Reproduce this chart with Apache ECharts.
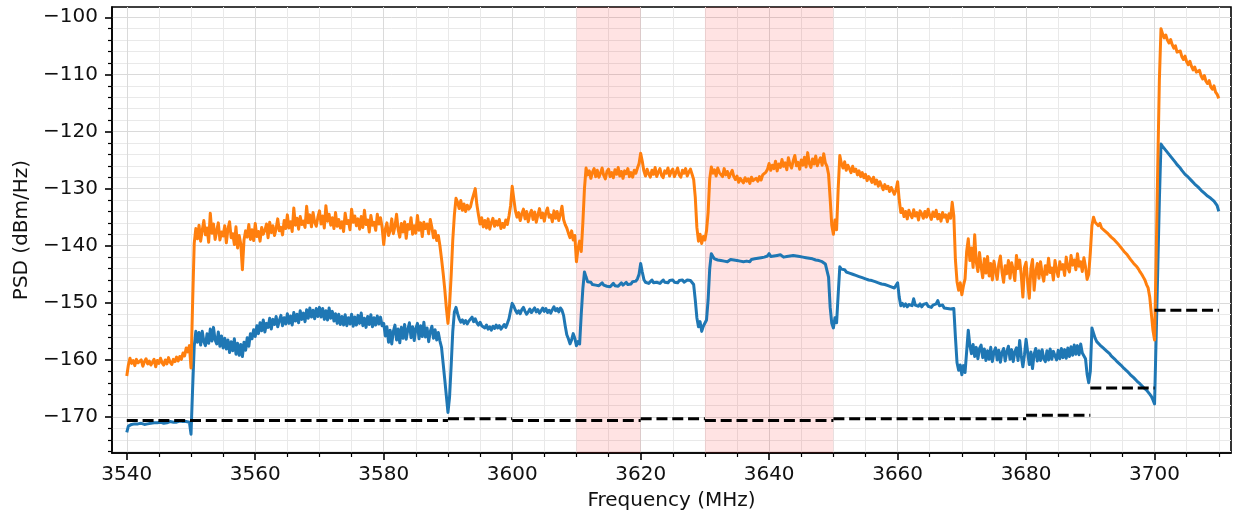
<!DOCTYPE html>
<html>
<head>
<meta charset="utf-8">
<title>PSD</title>
<script src="https://cdn.jsdelivr.net/npm/echarts@6/dist/echarts.min.js"></script>
<style>
  html, body { margin: 0; padding: 0; background: #fff; }
  #chart { width: 1236px; height: 519px; }
</style>
</head>
<body>
<div id="chart"></div>
<script>
// Frequency sampling of both traces (MHz)
const freqStartMHz = 3540;
const freqStepMHz = 0.25;

// Lower trace, dBm/Hz, two lines per 10 MHz
const bluePsd = [
  -172.7,-171.6,-171.4,-171.3,-171.4,-171.2,-171.3,-171.2,-171.3,-171.1,-171.2,-171.3,-171.1,-171.2,-171.0,-171.1,-171.2,-171.0,-171.1,-171.0,
  -171.1,-170.9,-171.0,-171.1,-170.9,-171.0,-170.9,-170.8,-171.0,-170.9,-170.8,-170.9,-170.8,-170.7,-170.9,-170.8,-170.7,-170.8,-170.6,-170.9,
  -173.0,-165.0,-157.6,-155.0,-156.9,-155.2,-157.4,-155.0,-156.8,-157.5,-155.4,-157.1,-154.6,-156.7,-154.3,-156.5,-157.2,-155.1,-157.6,-155.8,
  -157.9,-156.2,-158.1,-156.5,-158.7,-156.8,-158.4,-156.3,-159.0,-157.1,-159.2,-157.3,-159.4,-156.9,-158.3,-156.1,-157.6,-155.4,-156.3,-154.7,
  -155.9,-154.0,-155.4,-153.5,-154.9,-153.0,-155.1,-153.6,-154.3,-152.7,-154.6,-152.9,-153.8,-152.4,-154.2,-153.1,-152.2,-154.0,-152.6,-153.7,
  -151.9,-153.6,-152.3,-153.9,-151.7,-153.2,-152.0,-153.5,-151.4,-152.9,-151.8,-153.3,-151.2,-152.7,-150.9,-152.5,-151.3,-152.8,-151.0,-152.4,
  -150.8,-152.5,-151.0,-152.9,-151.4,-153.0,-150.9,-152.7,-151.5,-153.2,-151.9,-153.6,-152.0,-153.8,-152.4,-153.9,-152.1,-154.0,-152.6,-153.7,
  -152.0,-154.1,-152.5,-153.9,-152.2,-153.6,-151.8,-154.0,-152.7,-154.3,-152.4,-153.8,-152.1,-154.2,-152.6,-153.9,-152.3,-153.7,-152.5,-154.0,
  -153.6,-155.8,-154.2,-156.9,-154.8,-157.2,-155.0,-153.9,-156.5,-154.6,-157.0,-154.3,-156.2,-153.8,-156.4,-154.7,-153.5,-156.1,-154.2,-156.6,
  -154.5,-153.6,-156.3,-154.0,-155.9,-153.4,-156.0,-154.4,-156.8,-155.0,-154.1,-156.2,-154.7,-156.5,-155.2,-156.7,-157.8,-160.6,-163.4,-166.3,
  -169.2,-166.5,-161.0,-155.0,-151.6,-150.8,-151.9,-152.8,-153.4,-153.0,-153.6,-153.1,-153.7,-153.2,-152.9,-152.5,-153.3,-152.8,-153.5,-153.9,
  -153.4,-154.0,-153.7,-154.4,-153.9,-154.6,-154.2,-154.8,-154.1,-154.5,-153.9,-154.4,-154.0,-154.6,-154.2,-153.8,-154.3,-153.6,-152.8,-151.4,
  -150.1,-150.6,-151.3,-151.8,-151.4,-151.9,-151.2,-150.8,-151.5,-152.0,-151.6,-151.1,-151.7,-151.3,-150.9,-151.6,-151.2,-151.8,-151.4,-150.9,
  -151.5,-151.0,-151.7,-151.3,-151.8,-151.2,-150.7,-151.4,-151.0,-151.6,-150.9,-151.3,-152.2,-154.0,-155.6,-156.3,-157.2,-156.5,-155.4,-156.2,
  -157.5,-156.8,-157.2,-152.0,-147.5,-144.6,-145.5,-146.3,-146.6,-146.4,-146.8,-146.5,-146.9,-146.6,-147.0,-146.7,-146.5,-146.9,-146.6,-147.1,
  -146.8,-147.2,-146.9,-146.6,-147.0,-146.7,-147.1,-146.8,-146.5,-146.9,-146.6,-146.4,-146.8,-146.5,-146.7,-146.3,-146.6,-146.2,-145.8,-145.0,
  -143.1,-144.6,-145.9,-146.4,-146.1,-146.6,-146.3,-146.0,-146.5,-146.2,-146.4,-146.1,-146.6,-146.3,-146.0,-146.4,-146.2,-146.5,-146.1,-146.3,
  -146.0,-146.4,-146.2,-146.5,-146.1,-146.3,-146.0,-146.4,-146.2,-146.0,-146.3,-146.1,-146.4,-146.8,-149.5,-152.6,-154.2,-153.3,-155.0,-154.1,
  -154.4,-153.0,-149.5,-144.0,-141.4,-141.9,-142.3,-142.1,-142.5,-142.3,-142.6,-142.4,-142.7,-142.5,-142.8,-142.6,-142.4,-142.7,-142.5,-142.8,
  -142.6,-142.9,-142.7,-142.5,-142.8,-142.6,-142.7,-142.5,-142.8,-142.4,-142.6,-142.3,-142.5,-142.2,-142.4,-142.1,-142.3,-142.0,-142.2,-141.8,
  -141.4,-141.9,-142.1,-141.8,-142.0,-141.7,-141.9,-141.6,-141.8,-142.0,-141.7,-141.9,-141.6,-141.8,-141.9,-141.7,-142.0,-141.8,-142.1,-141.9,
  -142.2,-142.0,-142.3,-142.1,-142.4,-142.2,-142.5,-142.3,-142.6,-142.5,-142.7,-142.6,-142.9,-142.8,-143.0,-143.2,-143.4,-145.5,-150.8,-153.6,
  -154.4,-152.6,-153.5,-148.5,-143.7,-144.1,-144.3,-144.2,-144.6,-144.4,-144.8,-144.7,-145.0,-144.9,-145.2,-145.1,-145.4,-145.3,-145.6,-145.5,
  -145.8,-145.7,-146.0,-145.9,-146.1,-146.0,-146.3,-146.2,-146.5,-146.4,-146.7,-146.6,-146.8,-146.7,-147.0,-146.9,-147.2,-147.1,-147.4,-147.2,
  -146.5,-149.0,-150.5,-150.1,-150.6,-150.2,-150.7,-150.3,-150.0,-150.5,-149.3,-150.4,-150.1,-150.6,-150.2,-150.7,-150.3,-150.5,-150.1,-150.6,
  -150.3,-150.8,-150.4,-150.7,-150.2,-149.6,-150.5,-150.8,-150.4,-150.9,-150.6,-151.0,-150.7,-151.1,-151.3,-151.0,-156.0,-160.5,-161.8,-160.9,
  -162.6,-161.0,-162.2,-158.5,-154.8,-157.5,-158.9,-157.3,-159.4,-157.8,-159.8,-158.0,-157.4,-159.6,-158.1,-160.1,-158.4,-159.9,-157.8,-160.3,
  -158.6,-157.9,-160.0,-158.3,-160.4,-158.7,-158.0,-160.2,-158.5,-157.6,-159.9,-158.2,-160.3,-158.6,-157.9,-160.1,-156.6,-159.3,-161.2,-159.1,
  -156.4,-158.7,-160.8,-158.6,-161.5,-159.0,-158.0,-160.2,-158.4,-160.1,-158.2,-159.8,-160.3,-158.4,-160.0,-158.1,-159.9,-158.5,-158.2,-160.0,
  -158.3,-159.8,-158.0,-159.6,-158.2,-159.7,-157.9,-159.4,-157.7,-159.2,-157.4,-159.0,-157.5,-159.1,-157.2,-158.8,-158.9,-159.8,-162.5,-164.0,
  -162.0,-154.4,-155.3,-156.2,-156.8,-157.0,-157.4,-157.5,-157.9,-158.2,-158.4,-158.7,-158.9,-159.3,-159.5,-159.8,-160.0,-160.4,-160.6,-160.9,
  -161.1,-161.5,-161.7,-162.0,-162.2,-162.6,-162.8,-163.1,-163.3,-163.7,-163.9,-164.2,-164.4,-164.8,-165.0,-165.3,-165.6,-166.0,-166.4,-167.0,
  -167.7,-156.0,-144.0,-132.0,-122.2,-122.6,-122.9,-123.3,-123.6,-124.0,-124.3,-124.7,-125.0,-125.4,-125.8,-126.1,-126.4,-126.8,-127.1,-127.5,
  -127.7,-128.0,-128.3,-128.6,-128.9,-129.2,-129.4,-129.7,-130.0,-130.3,-130.5,-130.8,-131.0,-131.3,-131.5,-131.7,-132.0,-132.2,-132.5,-133.0,
  -134.0
];

// Upper trace, dBm/Hz, two lines per 10 MHz
const orangePsd = [
  -162.8,-160.9,-159.7,-160.6,-160.1,-161.0,-159.9,-160.5,-160.8,-160.0,-161.1,-160.3,-159.8,-160.7,-160.2,-160.9,-160.4,-159.9,-161.2,-160.1,
  -160.6,-159.7,-160.5,-160.9,-160.0,-160.7,-159.6,-160.4,-160.8,-159.9,-160.3,-159.5,-160.2,-159.4,-159.9,-158.8,-159.3,-157.9,-158.6,-157.5,
  -161.4,-150.0,-139.6,-137.0,-138.8,-136.4,-139.2,-137.3,-135.6,-138.1,-136.9,-139.4,-134.3,-137.8,-136.2,-138.9,-137.4,-136.0,-139.0,-137.6,
  -138.3,-136.5,-139.5,-137.1,-135.8,-138.6,-137.9,-139.8,-136.7,-140.4,-138.2,-139.7,-144.2,-139.0,-137.4,-138.5,-136.3,-138.9,-137.2,-139.1,
  -136.1,-138.4,-137.5,-139.2,-136.8,-138.0,-137.3,-136.2,-138.6,-135.9,-137.7,-136.5,-138.2,-137.0,-135.3,-137.4,-136.8,-138.1,-135.6,-137.0,
  -134.6,-136.9,-135.8,-137.5,-133.4,-136.4,-135.2,-137.1,-134.9,-136.3,-135.7,-136.8,-133.1,-136.0,-134.6,-136.7,-134.2,-135.9,-136.6,-135.0,
  -133.9,-136.2,-134.8,-136.9,-133.0,-135.7,-134.5,-136.4,-135.1,-137.0,-134.2,-136.6,-135.4,-136.9,-135.8,-137.5,-134.3,-136.1,-135.6,-137.2,
  -133.6,-135.9,-134.8,-136.5,-135.3,-137.1,-134.9,-136.8,-133.8,-136.3,-135.5,-137.6,-134.7,-136.4,-135.9,-137.3,-134.5,-136.2,-135.1,-136.8,
  -139.8,-137.1,-136.0,-138.2,-137.4,-135.3,-137.9,-136.6,-134.5,-137.2,-138.5,-136.1,-137.6,-135.8,-138.7,-136.3,-137.1,-135.1,-138.0,-136.5,
  -137.8,-134.7,-137.3,-136.0,-138.4,-135.9,-137.0,-136.2,-137.9,-135.4,-136.8,-138.6,-137.4,-139.1,-138.2,-140.0,-142.3,-144.8,-147.6,-150.9,
  -153.6,-150.4,-145.2,-139.0,-134.6,-131.7,-132.4,-133.5,-132.1,-133.8,-132.7,-134.0,-132.9,-133.6,-133.2,-132.0,-131.0,-130.0,-132.8,-134.6,
  -136.2,-135.1,-136.7,-135.6,-136.9,-135.3,-137.1,-136.0,-135.2,-136.6,-135.7,-136.4,-135.4,-137.0,-136.1,-136.8,-135.5,-136.3,-134.8,-133.0,
  -129.6,-131.8,-133.9,-135.0,-134.2,-135.6,-134.4,-133.6,-135.3,-134.0,-135.8,-134.5,-133.8,-135.4,-134.1,-135.9,-134.6,-133.5,-135.1,-134.3,
  -135.7,-134.2,-133.4,-135.0,-134.6,-135.8,-133.9,-135.2,-134.0,-135.6,-134.5,-133.1,-135.4,-136.3,-136.9,-137.8,-138.6,-137.4,-139.0,-138.2,
  -142.8,-140.5,-139.2,-141.0,-136.0,-130.0,-126.4,-127.6,-126.9,-128.2,-127.1,-126.5,-127.9,-126.8,-128.0,-127.3,-126.4,-127.7,-128.3,-127.0,
  -126.6,-127.9,-127.2,-128.1,-126.7,-127.5,-126.3,-127.8,-127.0,-128.2,-126.9,-127.4,-126.5,-127.9,-127.2,-128.0,-126.8,-127.3,-126.4,-125.6,
  -123.8,-125.2,-126.9,-127.8,-126.6,-127.4,-128.0,-126.8,-127.5,-126.3,-127.9,-127.1,-126.5,-127.7,-128.1,-126.9,-127.3,-126.4,-127.8,-127.0,
  -126.6,-127.9,-127.2,-126.4,-127.6,-128.0,-126.8,-127.3,-126.5,-127.8,-127.1,-126.6,-127.5,-128.4,-131.5,-136.8,-139.2,-138.0,-139.6,-138.4,
  -139.0,-137.4,-134.2,-128.3,-126.2,-127.3,-126.7,-127.8,-126.4,-127.2,-126.9,-127.9,-126.5,-127.6,-127.0,-128.1,-127.4,-126.8,-127.9,-128.4,
  -127.8,-128.9,-128.2,-128.6,-129.0,-128.1,-128.7,-128.3,-129.1,-128.0,-128.6,-128.9,-128.2,-128.7,-127.9,-128.5,-127.6,-127.9,-127.1,-126.6,
  -125.6,-126.8,-125.9,-126.5,-125.2,-126.9,-125.7,-126.3,-124.9,-126.1,-125.5,-126.7,-124.6,-125.8,-126.4,-125.1,-124.2,-126.0,-125.4,-126.6,
  -125.0,-125.9,-124.5,-126.2,-123.7,-125.6,-126.3,-124.8,-125.7,-124.3,-126.0,-125.2,-124.6,-125.9,-123.9,-125.5,-126.1,-127.5,-131.8,-136.4,
  -138.0,-135.5,-137.2,-130.0,-124.2,-125.6,-126.4,-125.3,-126.8,-125.9,-126.5,-127.2,-126.1,-127.0,-126.6,-127.6,-126.9,-127.9,-127.2,-128.1,
  -127.5,-128.6,-127.9,-128.3,-128.9,-128.0,-129.2,-128.5,-129.6,-128.8,-129.5,-130.2,-129.3,-130.0,-129.6,-130.5,-129.8,-130.4,-131.0,-130.2,
  -128.8,-132.0,-134.2,-133.5,-134.9,-134.0,-135.3,-133.8,-134.6,-135.1,-133.7,-134.8,-134.2,-135.5,-133.9,-134.4,-135.2,-134.0,-135.0,-133.6,
  -134.7,-135.4,-134.1,-134.9,-133.8,-135.3,-134.5,-135.7,-134.2,-135.0,-134.6,-135.8,-134.4,-135.2,-132.4,-134.8,-142.5,-146.3,-147.8,-146.5,
  -148.6,-147.0,-145.8,-141.0,-138.8,-142.6,-140.4,-143.8,-138.1,-142.9,-144.5,-141.2,-143.7,-145.6,-142.3,-144.8,-141.9,-145.3,-143.1,-146.0,
  -142.7,-144.4,-145.9,-143.2,-141.8,-144.6,-146.4,-143.5,-144.9,-142.6,-145.7,-143.0,-144.2,-146.1,-141.7,-144.0,-142.5,-145.2,-149.0,-143.8,
  -142.9,-146.5,-149.2,-144.0,-142.4,-147.8,-144.6,-143.1,-145.7,-142.8,-144.9,-146.2,-143.5,-145.0,-142.2,-144.7,-143.9,-146.0,-142.6,-144.3,
  -145.4,-142.8,-144.1,-143.3,-145.2,-142.0,-143.8,-144.6,-141.7,-143.4,-142.5,-144.2,-141.4,-143.6,-142.8,-144.5,-142.1,-143.7,-145.9,-145.0,
  -141.2,-136.5,-135.0,-135.9,-135.6,-136.5,-136.1,-136.9,-136.7,-137.4,-137.2,-137.9,-137.8,-138.5,-138.3,-139.0,-139.1,-139.6,-139.8,-140.3,
  -140.4,-141.0,-141.2,-141.6,-141.9,-142.4,-142.5,-143.1,-143.3,-143.7,-144.1,-144.6,-145.0,-145.5,-146.0,-146.8,-147.4,-149.0,-151.9,-154.8,
  -156.5,-142.0,-126.0,-111.0,-102.0,-102.9,-103.6,-103.1,-104.0,-104.5,-103.9,-104.8,-105.4,-105.0,-106.1,-106.4,-105.9,-106.9,-107.4,-106.8,
  -107.8,-108.3,-107.7,-108.6,-109.2,-108.7,-109.6,-109.9,-109.3,-110.3,-110.8,-110.2,-111.2,-111.6,-111.1,-112.2,-112.6,-112.0,-113.1,-113.5,
  -114.2
];

// Per-channel reference levels (dashed), dBm/Hz
const floorStartMHz = [3540, 3590, 3600, 3620, 3630, 3650, 3680, 3690, 3700];
const floorEndMHz   = [3590, 3600, 3620, 3630, 3650, 3680, 3690, 3700, 3710];
const floorDbm      = [-170.6, -170.3, -170.6, -170.3, -170.6, -170.3, -169.7, -164.9, -151.3];

// Highlighted frequency ranges (MHz)
const bandStartMHz = [3610, 3630];
const bandEndMHz   = [3620, 3650];

// Axis ticks
const xMajorTicks = [3540, 3560, 3580, 3600, 3620, 3640, 3660, 3680, 3700];
const yMajorTicks = [-170, -160, -150, -140, -130, -120, -110, -100];

const X_MIN = 3537.7, X_MAX = 3711.9;
const Y_MIN = -176.3, Y_MAX = -98.2;

const xMinorTicks = [];
for (let f = 3540; f <= 3710; f += 5) if (xMajorTicks.indexOf(f) < 0) xMinorTicks.push(f);
const yMinorTicks = [];
for (let v = -176; v <= -98.5; v += 2) if (yMajorTicks.indexOf(v) < 0) yMinorTicks.push(v);

const toPairs = (vals) => vals.map((v, i) => [freqStartMHz + i * freqStepMHz, v]);

const FONT = 'DejaVu Sans';
const TEXT = '#111';
const majorGrid = { show: true, lineStyle: { color: '#dadada', width: 1 } };
const minorGrid = { show: true, lineStyle: { color: '#e9e9e9', width: 1 } };

const floorSeries = floorDbm.map((lvl, i) => ({
  type: 'line',
  name: 'floor' + i,
  data: [[floorStartMHz[i], lvl], [floorEndMHz[i], lvl]],
  showSymbol: false,
  silent: true,
  z: 5,
  lineStyle: { color: '#000', width: 3, type: [11, 4.8], cap: 'butt' }
}));

const option = {
  animation: false,
  backgroundColor: '#fff',
  grid: {
    left: 112, right: 5, top: 7, bottom: 66,
    show: true, borderColor: '#000', borderWidth: 1.6, backgroundColor: 'transparent'
  },
  xAxis: [
    {
      type: 'value', min: X_MIN, max: X_MAX, position: 'bottom',
      axisLine: { show: true, onZero: false, lineStyle: { color: '#000', width: 1.6 } },
      axisTick: { show: true, length: 7, customValues: xMajorTicks, lineStyle: { color: '#000', width: 1.6 } },
      axisLabel: {
        customValues: xMajorTicks, fontFamily: FONT, fontSize: 20, color: TEXT, margin: 12,
        formatter: (v) => String(v)
      },
      splitLine: majorGrid,
      name: 'Frequency (MHz)', nameLocation: 'middle', nameGap: 38,
      nameTextStyle: { fontFamily: FONT, fontSize: 20, color: TEXT }
    },
    {
      type: 'value', min: X_MIN, max: X_MAX, position: 'bottom',
      axisLine: { show: false, onZero: false },
      axisTick: { show: true, length: 4, customValues: xMinorTicks, lineStyle: { color: '#000', width: 1.2 } },
      axisLabel: { show: false },
      splitLine: minorGrid
    }
  ],
  yAxis: [
    {
      type: 'value', min: Y_MIN, max: Y_MAX, position: 'left',
      axisLine: { show: true, onZero: false, lineStyle: { color: '#000', width: 1.6 } },
      axisTick: { show: true, length: 7, customValues: yMajorTicks, lineStyle: { color: '#000', width: 1.6 } },
      axisLabel: {
        customValues: yMajorTicks, fontFamily: FONT, fontSize: 20, color: TEXT, margin: 14,
        formatter: (v) => String(v).replace('-', '\u2212')
      },
      splitLine: majorGrid,
      name: 'PSD (dBm/Hz)', nameLocation: 'middle', nameGap: 74,
      nameTextStyle: { fontFamily: FONT, fontSize: 20, color: TEXT }
    },
    {
      type: 'value', min: Y_MIN, max: Y_MAX, position: 'left',
      axisLine: { show: false, onZero: false },
      axisTick: { show: true, length: 4, customValues: yMinorTicks, lineStyle: { color: '#000', width: 1.2 } },
      axisLabel: { show: false },
      splitLine: minorGrid
    }
  ],
  series: [
    {
      type: 'line', name: 'lower', data: toPairs(bluePsd),
      showSymbol: false, z: 3, sampling: null,
      lineStyle: { color: '#1f77b4', width: 3, join: 'round' },
      markArea: {
        silent: true,
        itemStyle: { color: 'rgba(255,0,0,0.11)' },
        data: bandStartMHz.map((s, i) => [{ xAxis: s }, { xAxis: bandEndMHz[i] }])
      }
    },
    {
      type: 'line', name: 'upper', data: toPairs(orangePsd),
      showSymbol: false, z: 4, sampling: null,
      lineStyle: { color: '#ff7f0e', width: 3, join: 'round' }
    }
  ].concat(floorSeries)
};

const chart = echarts.init(document.getElementById('chart'), null, { renderer: 'canvas' });
chart.setOption(option);
</script>
</body>
</html>
